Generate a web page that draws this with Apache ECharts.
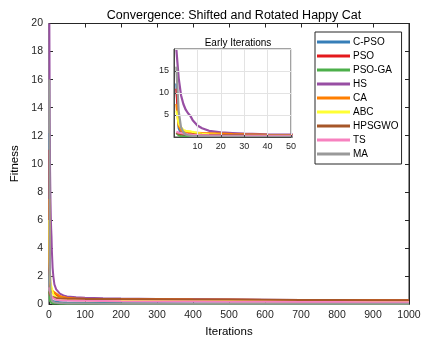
<!DOCTYPE html>
<html>
<head>
<meta charset="utf-8">
<script src="https://cdn.jsdelivr.net/npm/echarts@6/dist/echarts.min.js"></script>
<style>html,body{margin:0;padding:0;background:#fff}#c{width:425px;height:343px}</style>
</head>
<body>
<div id="c"></div>
<script>
var iters = [1,2,3,4,5,6,7,8,10,12,15,20,25,30,40,50,75,100,150,200,300,400,500,600,700,800,900,1000];
var cpso = [12.2,2.0,0.7,0.45,0.35,0.3,0.27,0.25,0.22,0.2,0.18,0.16,0.15,0.14,0.12,0.11,0.1,0.09,0.08,0.07,0.06,0.05,0.05,0.04,0.04,0.04,0.03,0.03];
var pso = [11.0,3.0,1.5,1.1,1.0,0.95,0.9,0.85,0.8,0.75,0.7,0.62,0.55,0.5,0.45,0.42,0.38,0.36,0.35,0.34,0.33,0.32,0.31,0.3,0.29,0.28,0.27,0.26];
var psoga = [0.9,0.4,0.2,0.12,0.1,0.08,0.07,0.06,0.05,0.05,0.04,0.04,0.03,0.03,0.03,0.02,0.02,0.02,0.02,0.02,0.01,0.01,0.01,0.01,0.01,0.01,0.01,0.01];
var hs = [20,13.4,9.5,7.5,6.2,5.4,4.8,3.8,2.6,2.0,1.4,1.05,0.9,0.75,0.62,0.55,0.48,0.45,0.42,0.40,0.37,0.35,0.33,0.31,0.30,0.28,0.27,0.26];
var ca = [7.5,2.5,1.5,1.2,1.1,1.05,1.0,0.98,0.95,0.9,0.85,0.75,0.65,0.58,0.5,0.45,0.4,0.38,0.36,0.35,0.34,0.32,0.31,0.3,0.29,0.28,0.27,0.26];
var abc = [6.0,3.0,2.2,1.6,1.4,1.35,1.3,1.15,0.9,0.7,0.6,0.5,0.45,0.42,0.38,0.35,0.3,0.28,0.26,0.25,0.24,0.23,0.22,0.21,0.2,0.2,0.19,0.19];
var hpsgwo = [0.9,0.75,0.65,0.6,0.58,0.55,0.53,0.52,0.5,0.48,0.46,0.44,0.42,0.41,0.4,0.39,0.38,0.37,0.37,0.36,0.35,0.33,0.32,0.31,0.3,0.29,0.28,0.28];
var ts = [1.2,1.0,0.9,0.8,0.7,0.6,0.55,0.5,0.45,0.4,0.35,0.3,0.28,0.27,0.26,0.25,0.24,0.23,0.22,0.2,0.19,0.18,0.17,0.16,0.15,0.15,0.14,0.14];
var ma = [16,5.9,2.2,1.1,0.6,0.4,0.3,0.25,0.2,0.15,0.12,0.1,0.08,0.07,0.06,0.05,0.04,0.04,0.03,0.03,0.03,0.02,0.02,0.02,0.02,0.02,0.02,0.02];

var names = ['C-PSO','PSO','PSO-GA','HS','CA','ABC','HPSGWO','TS','MA'];
var colors = ['#377eb8','#e41a1c','#4daf4a','#984ea3','#ff7f00','#ffff33','#a65628','#f781bf','#999999'];
var values = [cpso, pso, psoga, hs, ca, abc, hpsgwo, ts, ma];

var FONT = 'Liberation Sans, Arial, sans-serif';
var AX = '#262626';

function pairs(v){ return iters.map(function(it,i){ return [it, v[i]]; }); }
function plain(v){ return String(v); }

var series = [];
names.forEach(function(n,k){
  series.push({name:n, type:'line', xAxisIndex:0, yAxisIndex:0, data:pairs(values[k]),
    showSymbol:false, symbol:'none', lineStyle:{width:2, color:colors[k]}, itemStyle:{color:colors[k]},
    z:2, animation:false, clip:true});
});
names.forEach(function(n,k){
  series.push({name:n, type:'line', xAxisIndex:2, yAxisIndex:2, data:pairs(values[k]),
    showSymbol:false, symbol:'none', lineStyle:{width:2.2, color:colors[k]}, itemStyle:{color:colors[k]},
    z:6, animation:false, clip:true});
});

var option = {
  backgroundColor:'#fff',
  animation:false,
  textStyle:{fontFamily:FONT},
  title:[
    {text:'Convergence: Shifted and Rotated Happy Cat', left:229, top:4, textAlign:'center',
     textStyle:{fontSize:12.5, fontWeight:'normal', color:'#000', fontFamily:FONT}},
    {text:'Early Iterations', left:233, top:33, textAlign:'center', z:8,
     textStyle:{fontSize:10, fontWeight:'normal', color:'#000', fontFamily:FONT}}
  ],
  grid:[
    {left:49, right:16, top:23.5, bottom:35.5, show:true, borderColor:AX, borderWidth:1, backgroundColor:'#fff', z:0},
    {left:174, right:134, top:49, bottom:206, show:true, borderColor:'#444', borderWidth:1, backgroundColor:'#fff', z:5}
  ],
  legend:{
    data:names, orient:'vertical', left:315, top:32, icon:'rect', itemWidth:33, itemHeight:3, itemGap:2,
    padding:[4,3,4,2], borderColor:AX, borderWidth:1, backgroundColor:'#fff', z:10,
    textStyle:{fontSize:10, color:'#000', fontFamily:FONT, lineHeight:12, padding:[0,0,0,-2]},
    selectedMode:false
  },
  xAxis:[
    {type:'value', gridIndex:0, min:0, max:1000, interval:100, name:'Iterations', nameLocation:'middle', nameGap:21,
     nameTextStyle:{fontSize:11.5, color:'#000', fontFamily:FONT},
     axisLine:{onZero:false, lineStyle:{color:AX}}, axisTick:{inside:true, length:4, lineStyle:{color:AX}},
     axisLabel:{fontSize:10.5, color:AX, margin:6, formatter:plain, fontFamily:FONT}, splitLine:{show:false}},
    {type:'value', gridIndex:0, position:'top', min:0, max:1000, interval:100,
     axisLine:{onZero:false, lineStyle:{color:AX}}, axisTick:{inside:true, length:4, lineStyle:{color:AX}},
     axisLabel:{show:false}, splitLine:{show:false}},
    {type:'value', gridIndex:1, min:0, max:50, interval:10, z:7,
     axisLine:{onZero:false, lineStyle:{color:'#444'}}, axisTick:{inside:true, length:2, lineStyle:{color:'#444'}},
     axisLabel:{fontSize:9, color:AX, margin:5, showMinLabel:false, fontFamily:FONT},
     splitLine:{show:true, lineStyle:{color:'#e3e3e3', width:1}}}
  ],
  yAxis:[
    {type:'value', gridIndex:0, min:0, max:20, interval:2, name:'Fitness', nameLocation:'middle', nameGap:23,
     nameTextStyle:{fontSize:11.5, color:'#000', fontFamily:FONT},
     axisLine:{onZero:false, lineStyle:{color:AX}}, axisTick:{inside:true, length:4, lineStyle:{color:AX}},
     axisLabel:{fontSize:10.5, color:AX, margin:6, fontFamily:FONT}, splitLine:{show:false}},
    {type:'value', gridIndex:0, position:'right', min:0, max:20, interval:2,
     axisLine:{onZero:false, lineStyle:{color:AX}}, axisTick:{inside:true, length:4, lineStyle:{color:AX}},
     axisLabel:{show:false}, splitLine:{show:false}},
    {type:'value', gridIndex:1, min:0, max:20, interval:5, z:7,
     axisLine:{onZero:false, lineStyle:{color:'#444'}}, axisTick:{inside:true, length:2, lineStyle:{color:'#444'}},
     axisLabel:{fontSize:9, color:AX, margin:5, showMinLabel:false, showMaxLabel:false, fontFamily:FONT},
     splitLine:{show:true, lineStyle:{color:'#e3e3e3', width:1}}}
  ],
  series:series
};
var chart = echarts.init(document.getElementById('c'), null, {renderer:'canvas'});
chart.setOption(option);
</script>
</body>
</html>
